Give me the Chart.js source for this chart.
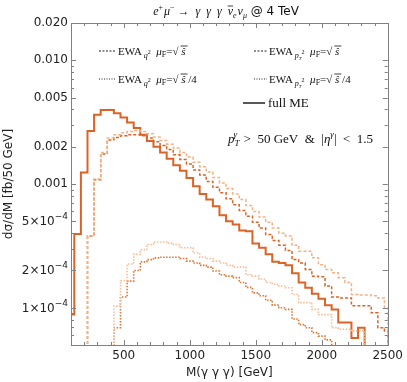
<!DOCTYPE html>
<html><head><meta charset="utf-8">
<script src="https://cdn.jsdelivr.net/npm/chart.js@4"></script>
<style>html,body{margin:0;padding:0;background:#fff;}#wrap{width:407px;height:382px;}</style>
</head><body><div id="wrap"><canvas id="c" width="407" height="382"></canvas></div>
<script>
// ---- data (bin centres, 50 GeV bins) ----
const binCenters = [100,150,200,250,300,350,400,450,500,550,600,650,700,750,800,850,900,950,1000,1050,1100,1150,1200,1250,1300,1350,1400,1450,1500,1550,1600,1650,1700,1750,1800,1850,1900,1950,2000,2050,2100,2150,2200,2250,2300,2350,2400,2450,2500];
const fullME = [8.8e-5,3.95e-4,1.24e-3,2.68e-3,3.62e-3,3.97e-3,3.97e-3,3.73e-3,3.45e-3,3.14e-3,2.83e-3,2.5e-3,2.23e-3,2.0e-3,1.8e-3,1.6e-3,1.42e-3,1.28e-3,1.12e-3,9.6e-4,8.3e-4,7.5e-4,6.6e-4,5.6e-4,5.0e-4,4.7e-4,4.2e-4,4.15e-4,3.3e-4,3.05e-4,2.7e-4,2.35e-4,2.3e-4,2.2e-4,1.9e-4,1.6e-4,1.45e-4,1.3e-4,1.18e-4,1.05e-4,9.7e-5,7.6e-5,7.6e-5,5.7e-5,6.9e-5,null,null,null,null];
const ewaQ2 = [null,null,null,3.8e-4,1.08e-3,1.75e-3,2.27e-3,2.38e-3,2.45e-3,2.5e-3,2.5e-3,2.45e-3,2.35e-3,2.2e-3,2.05e-3,1.9e-3,1.72e-3,1.58e-3,1.45e-3,1.3e-3,1.18e-3,1.05e-3,9.4e-4,8.5e-4,7.6e-4,6.8e-4,6.1e-4,5.5e-4,4.9e-4,4.4e-4,3.9e-4,3.5e-4,3.2e-4,2.9e-4,2.45e-4,2.3e-4,2.04e-4,1.8e-4,1.78e-4,1.5e-4,1.22e-4,1.2e-4,1.2e-4,1.04e-4,1.04e-4,1.04e-4,9.1e-5,6.9e-5,6.5e-5];
const ewaPT2 = [null,null,null,3.8e-4,1.1e-3,1.8e-3,2.35e-3,2.5e-3,2.6e-3,2.65e-3,2.7e-3,2.65e-3,2.55e-3,2.4e-3,2.25e-3,2.1e-3,1.95e-3,1.8e-3,1.65e-3,1.5e-3,1.38e-3,1.25e-3,1.13e-3,1.02e-3,9.2e-4,8.3e-4,7.5e-4,6.7e-4,6.0e-4,5.4e-4,4.9e-4,4.4e-4,4.0e-4,3.8e-4,3.2e-4,2.86e-4,2.86e-4,2.53e-4,2.23e-4,2.04e-4,1.92e-4,1.75e-4,1.6e-4,1.28e-4,1.27e-4,1.27e-4,1.25e-4,1.2e-4,1.0e-4];
const ewaQ2Quarter = [null,null,null,null,null,null,null,6.9e-5,1.22e-4,1.64e-4,2.0e-4,2.35e-4,2.45e-4,2.53e-4,2.56e-4,2.56e-4,2.56e-4,2.5e-4,2.38e-4,2.3e-4,2.2e-4,2.13e-4,1.98e-4,1.85e-4,1.8e-4,1.75e-4,1.6e-4,1.46e-4,1.32e-4,1.25e-4,1.15e-4,1.05e-4,1.0e-4,9.7e-5,8.1e-5,7.3e-5,6.9e-5,6.3e-5,5.9e-5,5.5e-5,null,null,null,null,null,null,null,null,null];
const ewaPT2Quarter = [null,null,null,null,null,null,null,1.03e-4,1.66e-4,2.26e-4,2.7e-4,2.95e-4,3.24e-4,3.4e-4,3.4e-4,3.33e-4,3.24e-4,3.05e-4,3.05e-4,2.77e-4,2.56e-4,2.5e-4,2.38e-4,2.3e-4,2.2e-4,2.13e-4,2.13e-4,1.85e-4,1.8e-4,1.7e-4,1.6e-4,1.55e-4,1.5e-4,1.45e-4,1.28e-4,1.1e-4,1.1e-4,9.7e-5,8.8e-5,8.8e-5,6.9e-5,6.7e-5,6.7e-5,6.5e-5,6.5e-5,null,null,null,null];
const xTicks = [500,1000,1500,2000,2500];
const yTicks = [1e-4,2e-4,5e-4,1e-3,2e-3,5e-3,1e-2,2e-2];
const yTickLabels = ['1|-4','2|-4','5|-4','0.001','0.002','0.005','0.010','0.020'];

const X_MIN=100, X_MAX=2500, Y_MIN=5e-5, Y_MAX=0.02, HALF=25;

function histPoints(vals){
  const first = vals.findIndex(v=>v!=null);
  let last = vals.length-1; while(vals[last]==null) last--;
  const FLOOR=1e-7, pts=[];
  pts.push({x:Math.max(binCenters[first]-HALF,X_MIN), y:FLOOR});
  for(let i=first;i<=last;i++){
    const l=Math.max(binCenters[i]-HALF,X_MIN), r=Math.min(binCenters[i]+HALF,X_MAX);
    pts.push({x:l,y:vals[i]},{x:r,y:vals[i]});
  }
  pts.push({x:Math.min(binCenters[last]+HALF,X_MAX), y:FLOOR});
  return pts;
}

const SANS='"DejaVu Sans", sans-serif', SERIF='"Liberation Serif", serif';

function rich(ctx,x,y,segs,align){
  let w=0;
  segs.forEach(s=>{ctx.font=s.f; s.w=ctx.measureText(s.t).width; w+=s.w+(s.dx||0);});
  let cx = align==='center'? x-w/2 : (align==='right'? x-w : x);
  segs.forEach(s=>{
    ctx.font=s.f; const px=cx+(s.dx||0), py=y+(s.dy||0);
    ctx.fillText(s.t,px,py);
    if(s.over){ctx.save();ctx.lineWidth=0.8;ctx.strokeStyle=ctx.fillStyle;ctx.beginPath();ctx.moveTo(px+(s.ox||0),py-s.over);ctx.lineTo(px+s.w+(s.ox||0),py-s.over);ctx.stroke();ctx.restore();}
    cx=px+s.w;
  });
}

const frame = {
  id:'frame',
  afterDatasetsDraw(chart){
    const {ctx, chartArea:a, scales:{x,y}} = chart;
    ctx.save();
    ctx.strokeStyle='#808080'; ctx.lineWidth=1;
    ctx.strokeRect(Math.round(a.left)+0.5, Math.round(a.top)+0.5, Math.round(a.right-a.left), Math.round(a.bottom-a.top));
    ctx.beginPath();
    for(let e=-5;e<=-1;e++){
      for(let k=1;k<=9;k++){
        const v=k*Math.pow(10,e);
        if(v<Y_MIN*0.999||v>Y_MAX*1.001) continue;
        const major = yTicks.some(t=>Math.abs(t-v)/v<1e-6);
        const L = major?5:3;
        const py=Math.round(y.getPixelForValue(v))+0.5;
        ctx.moveTo(a.left,py);ctx.lineTo(a.left+L,py);
        ctx.moveTo(a.right,py);ctx.lineTo(a.right-L,py);
      }
    }
    for(let v=200; v<=X_MAX; v+=100){
      const major = v%500===0; const L = major?5:3;
      const px=Math.round(x.getPixelForValue(v))+0.5;
      ctx.moveTo(px,a.bottom);ctx.lineTo(px,a.bottom-L);
      ctx.moveTo(px,a.top);ctx.lineTo(px,a.top+L);
    }
    ctx.stroke();
    ctx.fillStyle='#222'; ctx.textBaseline='alphabetic';
    yTicks.forEach((v,i)=>{
      const lab=yTickLabels[i];
      if(lab.indexOf('|')<0) return;
      const [m,ex]=lab.split('|');
      const py=y.getPixelForValue(v);
      rich(ctx,a.left-3,py+4,[{t:m+'\u00d710',f:'12px '+SANS},{t:ex.replace('-','\u2212'),f:'9px '+SANS,dy:-6}],'right');
    });
    ctx.fillStyle='#111';
    const it12='italic 12px '+SERIF, r12='12px '+SERIF, s8='8px '+SERIF, it8='italic 8px '+SERIF;
    rich(ctx,226,15,[
      {t:'e',f:it12},{t:'+',f:s8,dy:-5},{t:'\u03bc',f:it12,dx:1},{t:'\u2212',f:s8,dy:-5},
      {t:' \u2192  ',f:r12},{t:'\u03b3  \u03b3  \u03b3  ',f:it12},
      {t:'\u03bd',f:it12,over:9},{t:'e',f:it8,dy:3},{t:'\u03bd',f:it12,dx:1},{t:'\u03bc',f:it8,dy:3},
      {t:' @ 4 TeV',f:'12px '+SANS}
    ],'center');
    const r11='11px '+SERIF, it11='italic 11px '+SERIF, s7='8px '+SERIF, it7='italic 8px '+SERIF, s5='6px '+SERIF;
    function sample(x0,x1,yy,dash,w){ctx.save();ctx.strokeStyle='#222';ctx.lineWidth=w;ctx.setLineDash(dash);ctx.beginPath();ctx.moveTo(x0,yy);ctx.lineTo(x1,yy);ctx.stroke();ctx.restore();}
    const muF=(quarter)=>{
      const s=[{t:'  \u03bc',f:it11},{t:'F',f:s7,dy:2},{t:'=',f:r11},{t:'\u221a',f:r11},{t:' s\u0302',f:it11,over:9,ox:2}];
      if(quarter) s.push({t:' /4',f:r11});
      return s;
    };
    const q2=()=>[{t:'EWA',f:r11},{t:' q',f:it7,dy:3},{t:'2',f:s5,dy:-1}];
    const pt2=()=>[{t:'EWA',f:r11},{t:' p',f:it7,dy:3},{t:'T',f:'italic 5px '+SERIF,dy:5},{t:'2',f:s5,dy:-1}];
    sample(99,115,51,[2,1.5],1);
    rich(ctx,118,55,q2().concat(muF(false)),'left');
    sample(254,267,51,[2,1.5],1);
    rich(ctx,269,55,pt2().concat(muF(false)),'left');
    sample(99,115,79,[1,1.5],1);
    rich(ctx,118,83,q2().concat(muF(true)),'left');
    sample(254,267,79,[1,1.5],1);
    rich(ctx,269,83,pt2().concat(muF(true)),'left');
    sample(243,265,103,[],1.5);
    rich(ctx,268,107,[{t:'full ME',f:'13px '+SERIF}],'left');
    const it13='italic 13px '+SERIF, r13='13px '+SERIF, it9='italic 9px '+SERIF;
    rich(ctx,228,143,[{t:'p',f:it13},{t:'T',f:it9,dy:3},{t:'\u03b3',f:it9,dy:-6,dx:-6},
      {t:'  >  50 GeV  &  |',f:r13},{t:'\u03b7',f:it13},{t:'\u03b3',f:it9,dy:-6},{t:'|  <  1.5',f:r13}],'left');
    ctx.restore();
  }
};

const DARK='#dc6326', MID='#e07535', LIGHT='#f3b285', LIGHTDOT='#f4bf98';
const ds=(label,vals,color,width,dash)=>({label,data:histPoints(vals),borderColor:color,borderWidth:width,borderDash:dash,fill:false,pointRadius:0,tension:0,stepped:false});

new Chart(document.getElementById('c'),{
  type:'line',
  data:{datasets:[
    ds('EWA pT2 muF=sqrt(s)/4',ewaPT2Quarter,LIGHTDOT,1.6,[1.5,1.5]),
    ds('EWA q2 muF=sqrt(s)/4',ewaQ2Quarter,MID,1.6,[1.5,1.5]),
    ds('EWA pT2 muF=sqrt(s)',ewaPT2,LIGHT,1.5,[3,2]),
    ds('EWA q2 muF=sqrt(s)',ewaQ2,DARK,1.5,[3,2]),
    ds('full ME',fullME,DARK,2,[])
  ]},
  options:{
    responsive:false, animation:false, devicePixelRatio:1,
    layout:{padding:{top:23,right:18,left:0,bottom:0}},
    plugins:{legend:{display:false},tooltip:{enabled:false}},
    scales:{
      x:{type:'linear',min:X_MIN,max:X_MAX,
        afterBuildTicks:s=>{s.ticks=xTicks.map(v=>({value:v}));},
        afterFit:s=>{s.height=37;},
        grid:{display:false,drawTicks:false},border:{display:false},
        ticks:{font:{family:'DejaVu Sans',size:12},color:'#222',padding:4,maxRotation:0,autoSkip:false,callback:v=>String(v)},
        title:{display:true,text:'M(\u03b3 \u03b3 \u03b3) [GeV]',font:{family:'DejaVu Sans',size:12},color:'#222',padding:{top:0,bottom:2}}},
      y:{type:'logarithmic',min:Y_MIN,max:Y_MAX,
        afterBuildTicks:s=>{s.ticks=yTicks.map(v=>({value:v}));},
        afterFit:s=>{s.width=71;},
        grid:{display:false,drawTicks:false},border:{display:false},
        ticks:{font:{family:'DejaVu Sans',size:12},color:'#222',padding:3,autoSkip:false,
          callback:(v,i)=>{const l=yTickLabels[i]; return (l && l.indexOf('|')<0)? l : '';}},
        title:{display:true,text:'d\u03c3/dM [fb/50 GeV]',font:{family:'DejaVu Sans',size:12},color:'#222',padding:{top:2,bottom:0}}}
    }
  },
  plugins:[frame]
});
</script></body></html>
